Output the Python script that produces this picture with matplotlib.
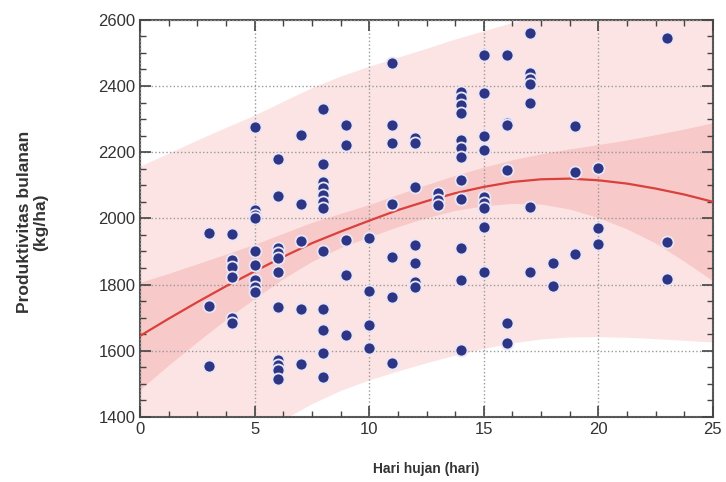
import numpy as np
import matplotlib
matplotlib.use("Agg")
import matplotlib.pyplot as plt
from matplotlib.ticker import MultipleLocator

# hari hujan per bulan -> produktivitas bulanan (kg/ha)
rain_days = [3] * 3 + [4] * 6 + [5] * 9 + [6] * 11 + [7] * 5 + [8] * 12 + [9] * 5 \
    + [10] * 4 + [11] * 7 + [12] * 7 + [13] * 3 + [14] * 12 + [15] * 9 + [16] * 6 \
    + [17] * 7 + [18] * 2 + [19] * 3 + [20] * 3 + [23] * 3
yields = [
    1956, 1736, 1555,                                                   # 3
    1953, 1875, 1854, 1824, 1700, 1685,                                 # 4
    2277, 2026, 2011, 2002, 1902, 1860, 1815, 1793, 1778,               # 5
    2180, 2068, 1911, 1896, 1881, 1839, 1733, 1573, 1558, 1543, 1515,   # 6
    2253, 2044, 1932, 1727, 1561,                                       # 7
    2331, 2165, 2111, 2092, 2070, 2050, 2032, 1902, 1727, 1663, 1594, 1521,  # 8
    2283, 2222, 1935, 1830, 1648,                                       # 9
    1941, 1781, 1679, 1609,                                             # 10
    2470, 2283, 2228, 2044, 1884, 1763, 1564,                           # 11
    2243, 2228, 2096, 1920, 1866, 1809, 1793,                           # 12
    2077, 2056, 2040,                                                   # 13
    2383, 2363, 2343, 2319, 2237, 2213, 2186, 2117, 2059, 1911, 1815, 1603,  # 14
    2494, 2379, 2250, 2207, 2065, 2047, 2032, 1975, 1839,               # 15
    2494, 2289, 2282, 2147, 1685, 1624,                                 # 16
    2561, 2440, 2420, 2405, 2349, 2035, 1839,                           # 17
    1866, 1797,                                                         # 18
    2280, 2141, 1893,                                                   # 19
    2153, 1971, 1923,                                                   # 20
    2546, 1929, 1818,                                                   # 23
]

# trend line and bands (every 1.25 hari)
trend_x = [0, 1.25, 2.5, 3.75, 5, 6.25, 7.5, 8.75, 10, 11.25, 12.5,
           13.75, 15, 16.25, 17.5, 18.75, 20, 21.25, 22.5, 23.75, 25]
trend_y = [1645, 1697, 1747, 1795, 1840, 1884, 1925, 1960, 1993, 2025, 2052,
           2076, 2095, 2110, 2118, 2120, 2115, 2105, 2090, 2072, 2050]
ci_upper = [1807, 1834, 1863, 1892, 1922, 1955, 1988, 2015, 2042, 2072, 2102,
            2130, 2155, 2177, 2195, 2210, 2223, 2237, 2253, 2270, 2289]
ci_lower = [1483, 1557, 1627, 1695, 1758, 1818, 1870, 1912, 1944, 1975, 2002,
            2024, 2038, 2045, 2043, 2028, 2002, 1968, 1925, 1870, 1811]
pi_upper = [2156, 2195, 2235, 2273, 2310, 2352, 2393, 2428, 2458, 2485, 2512,
            2540, 2565, 2590, 2608, 2625, 2638, 2646, 2650, 2650, 2650]
pi_lower = [1180, 1220, 1260, 1300, 1342, 1390, 1438, 1478, 1510, 1537, 1562,
            1585, 1605, 1622, 1634, 1640, 1641, 1639, 1635, 1630, 1625]

fig = plt.figure(figsize=(7.26, 4.82), dpi=100)
ax = fig.add_axes([0.193, 0.135, 0.789, 0.824])

ax.fill_between(trend_x, pi_lower, pi_upper, color="#fde4e4", lw=0, zorder=0)
ax.fill_between(trend_x, ci_lower, ci_upper, color="#f8c9c9", lw=0, zorder=1)
ax.plot(trend_x, trend_y, color="#d8413c", lw=1.6, zorder=3)
ax.scatter(rain_days, yields, s=75, color="#2e3585", edgecolors="#e8e6f5",
           linewidths=1.3, zorder=4)

ax.set_xlim(0, 25)
ax.set_ylim(1400, 2600)
ax.xaxis.set_major_locator(MultipleLocator(5))
ax.xaxis.set_minor_locator(MultipleLocator(1.25))
ax.yaxis.set_major_locator(MultipleLocator(200))
ax.yaxis.set_minor_locator(MultipleLocator(50))
ax.tick_params(which="both", direction="in", top=True, right=True, colors="#444444",
               labelcolor="#333333", labelsize=12)
ax.tick_params(which="major", length=8, width=1.2)
ax.tick_params(which="minor", length=4, width=1)
for sp in ax.spines.values():
    sp.set_color("#555555")
    sp.set_linewidth(1.5)
ax.grid(True, which="major", ls=":", color="#999999", lw=1, zorder=2)
ax.set_axisbelow(False)

for lab in ax.get_xticklabels() + ax.get_yticklabels():
    lab.set_family("Liberation Sans")

ax.set_xlabel("Hari hujan (hari)", fontsize=10, fontweight="bold", family="Liberation Sans",
              color="#333333", labelpad=18)
fig.text(0.045, 0.539, "Produktivitas bulanan\n(kg/ha)", rotation=90, ha="center", va="center",
         fontsize=12.5, fontweight="bold", family="Liberation Sans", color="#333333",
         multialignment="center", linespacing=1.1)

fig.savefig("out.png", dpi=100)
